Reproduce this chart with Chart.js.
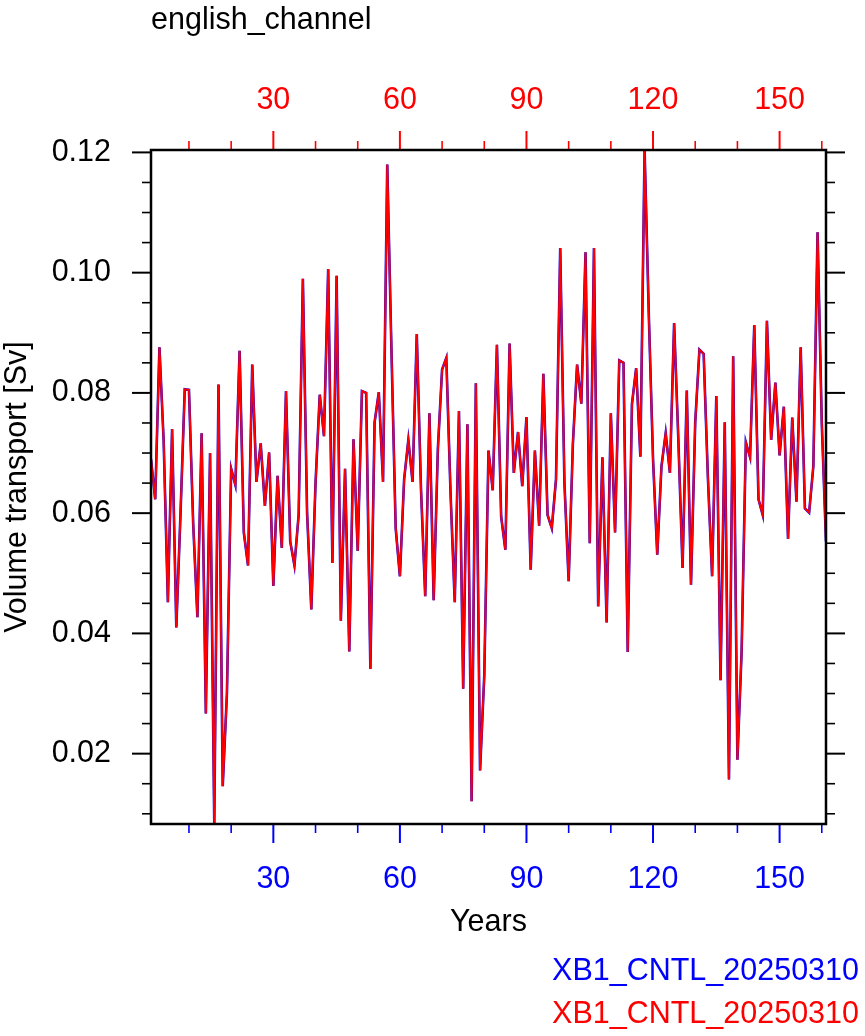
<!DOCTYPE html>
<html>
<head>
<meta charset="utf-8">
<script src="https://cdn.jsdelivr.net/npm/chart.js@4.4.1/dist/chart.umd.min.js"></script>
<style>
  html, body { margin: 0; padding: 0; background: #fff; }
  #wrap { width: 865px; height: 1036px; }
</style>
</head>
<body>
<div id="wrap"><canvas id="chart" width="865" height="1036"></canvas></div>
<script>
const plotTitle = "english_channel";
const seriesNames = ["XB1_CNTL_20250310", "XB1_CNTL_20250310"];
const seriesColors = ["#0000ff", "#ff0000"];

// volume transport [Sv], one value per model year (both runs are identical)
const transport = [
  0.0690, 0.0623, 0.0876, 0.0720, 0.0452, 0.0740, 0.0410, 0.0600, 0.0806, 0.0805,
  0.0583, 0.0427, 0.0733, 0.0267, 0.0700, 0.0083, 0.0814, 0.0146, 0.0300, 0.0674,
  0.0647, 0.0870, 0.0568, 0.0513, 0.0847, 0.0652, 0.0716, 0.0612, 0.0701, 0.0479,
  0.0662, 0.0542, 0.0803, 0.0553, 0.0513, 0.0597, 0.0990, 0.0600, 0.0440, 0.0650,
  0.0797, 0.0728, 0.1006, 0.0517, 0.0995, 0.0421, 0.0674, 0.0370, 0.0723, 0.0537,
  0.0803, 0.0800, 0.0341, 0.0751, 0.0801, 0.0652, 0.1180, 0.0870, 0.0575, 0.0495,
  0.0656, 0.0722, 0.0652, 0.0898, 0.0640, 0.0462, 0.0766, 0.0455, 0.0707, 0.0839,
  0.0858, 0.0634, 0.0452, 0.0770, 0.0308, 0.0748, 0.0121, 0.0816, 0.0172, 0.0330,
  0.0704, 0.0638, 0.0880, 0.0594, 0.0539, 0.0882, 0.0667, 0.0735, 0.0645, 0.0760,
  0.0506, 0.0704, 0.0579, 0.0832, 0.0597, 0.0575, 0.0656, 0.1041, 0.0650, 0.0487,
  0.0715, 0.0847, 0.0782, 0.1034, 0.0550, 0.1041, 0.0445, 0.0693, 0.0418, 0.0766,
  0.0568, 0.0854, 0.0850, 0.0369, 0.0781, 0.0841, 0.0694, 0.1204, 0.0930, 0.0690,
  0.0531, 0.0678, 0.0733, 0.0667, 0.0916, 0.0722, 0.0509, 0.0804, 0.0481, 0.0751,
  0.0872, 0.0865, 0.0660, 0.0495, 0.0795, 0.0322, 0.0751, 0.0157, 0.0861, 0.0190,
  0.0370, 0.0718, 0.0693, 0.0913, 0.0623, 0.0597, 0.0920, 0.0722, 0.0817, 0.0696,
  0.0777, 0.0557, 0.0759, 0.0619, 0.0876, 0.0608, 0.0601, 0.0678, 0.1067, 0.0750,
  0.0553
];
const years = transport.map((v, i) => i + 1);

const xMajor = [30, 60, 90, 120, 150];
const xMinor = [10, 20, 40, 50, 70, 80, 100, 110, 130, 140, 160];
const yMajor = [0.02, 0.04, 0.06, 0.08, 0.10, 0.12];
const yMinor = [0.01, 0.015, 0.025, 0.03, 0.035, 0.045, 0.05, 0.055, 0.065, 0.07,
                0.075, 0.085, 0.09, 0.095, 0.105, 0.11, 0.115];

const FONT = "'Liberation Sans', Arial, Helvetica, sans-serif";
const FS = 30.5;

const xMin = years[0], xMax = years[years.length - 1];
const yMin = Math.min(...transport), yMax = Math.max(...transport);

// frame, outward ticks, title and the text legend
const framePlugin = {
  id: "frame",
  afterDraw(chart) {
    const { ctx, chartArea: a, scales } = chart;
    ctx.save();
    const seg = (x1, y1, x2, y2, color, w) => {
      ctx.beginPath();
      ctx.strokeStyle = color;
      ctx.lineWidth = w;
      ctx.moveTo(x1, y1);
      ctx.lineTo(x2, y2);
      ctx.stroke();
    };
    const BIG = 19, SMALL = 9;
    xMajor.forEach(v => {
      const px = scales.x.getPixelForValue(v);
      seg(px, a.bottom, px, a.bottom + BIG, seriesColors[0], 2);
      seg(px, a.top, px, a.top - BIG, seriesColors[1], 2);
    });
    xMinor.forEach(v => {
      const px = scales.x.getPixelForValue(v);
      seg(px, a.bottom, px, a.bottom + SMALL, seriesColors[0], 1.6);
      seg(px, a.top, px, a.top - SMALL, seriesColors[1], 1.6);
    });
    yMajor.forEach(v => {
      const py = scales.y.getPixelForValue(v);
      seg(a.left, py, a.left - BIG, py, "#000", 2);
      seg(a.right, py, a.right + BIG, py, "#000", 2);
    });
    yMinor.forEach(v => {
      const py = scales.y.getPixelForValue(v);
      seg(a.left, py, a.left - SMALL, py, "#000", 1.6);
      seg(a.right, py, a.right + SMALL, py, "#000", 1.6);
    });

    ctx.strokeStyle = "#000";
    ctx.lineWidth = 2.5;
    ctx.strokeRect(a.left, a.top, a.right - a.left, a.bottom - a.top);

    ctx.font = FS + "px " + FONT;
    ctx.textBaseline = "alphabetic";
    ctx.textAlign = "left";
    ctx.fillStyle = "#000";
    ctx.fillText(plotTitle, a.left, 28.5);

    ctx.textAlign = "right";
    ctx.fillStyle = seriesColors[0];
    ctx.fillText(seriesNames[0], 859, 980);
    ctx.fillStyle = seriesColors[1];
    ctx.fillText(seriesNames[1], 859, 1023);
    ctx.restore();
  }
};

new Chart(document.getElementById("chart"), {
  type: "line",
  data: {
    datasets: seriesNames.map((name, i) => ({
      label: name,
      data: years.map((yr, j) => ({ x: yr, y: transport[j] })),
      borderColor: seriesColors[i],
      borderWidth: i === 0 ? 2.6 : 2,
      pointRadius: 0,
      tension: 0,
      fill: false,
      order: seriesNames.length - i, // later series drawn on top
      xAxisID: "x",
      yAxisID: "y"
    }))
  },
  options: {
    responsive: false,
    animation: false,
    devicePixelRatio: 1,
    layout: { padding: 0 },
    plugins: {
      legend: { display: false },
      tooltip: { enabled: false },
      title: { display: false }
    },
    scales: {
      x: {
        type: "linear",
        position: "bottom",
        min: xMin,
        max: xMax,
        afterBuildTicks: s => { s.ticks = xMajor.map(v => ({ value: v })); },
        afterFit: s => { s.height = 212; },
        grid: { display: false, drawTicks: false },
        border: { display: false },
        ticks: {
          color: seriesColors[0],
          font: { family: FONT, size: FS, lineHeight: 1 },
          padding: 40,
          maxRotation: 0,
          autoSkip: false
        },
        title: {
          display: true,
          text: "Years",
          color: "#000",
          font: { family: FONT, size: FS, lineHeight: 1 },
          padding: { top: 0, bottom: 98 }
        }
      },
      x2: {
        type: "linear",
        position: "top",
        min: xMin,
        max: xMax,
        afterBuildTicks: s => { s.ticks = xMajor.map(v => ({ value: v })); },
        afterFit: s => { s.height = 150; },
        grid: { display: false, drawTicks: false },
        border: { display: false },
        ticks: {
          color: seriesColors[1],
          font: { family: FONT, size: FS, lineHeight: 1 },
          padding: 34,
          maxRotation: 0,
          autoSkip: false
        }
      },
      y: {
        type: "linear",
        position: "left",
        min: yMin,
        max: yMax,
        afterBuildTicks: s => { s.ticks = yMajor.map(v => ({ value: v })); },
        afterFit: s => { s.width = 151; },
        grid: { display: false, drawTicks: false },
        border: { display: false },
        ticks: {
          color: "#000",
          font: { family: FONT, size: FS, lineHeight: 1 },
          padding: 40,
          callback: v => v.toFixed(2)
        },
        title: {
          display: true,
          text: "Volume transport [Sv]",
          color: "#000",
          font: { family: FONT, size: FS, lineHeight: 1 },
          padding: { top: 2, bottom: 0 }
        }
      },
      y2: {
        type: "linear",
        position: "right",
        min: yMin,
        max: yMax,
        afterFit: s => { s.width = 39; },
        grid: { display: false, drawTicks: false },
        border: { display: false },
        ticks: { display: false }
      }
    }
  },
  plugins: [framePlugin]
});
</script>
</body>
</html>
